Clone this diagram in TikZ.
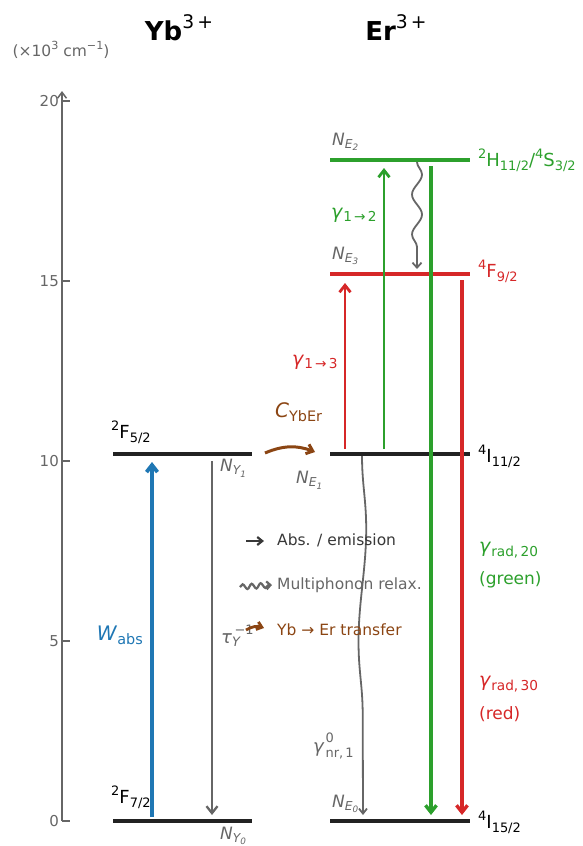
\documentclass[tikz,border=0pt]{standalone}
\usepackage{fontspec}
\setmainfont{DejaVu Sans}
\usetikzlibrary{arrows.meta,decorations.pathmorphing}
\definecolor{cgreen}{HTML}{2CA02C}
\definecolor{cred}{HTML}{D62728}
\definecolor{cblue}{HTML}{1F77B4}
\definecolor{cbrown}{HTML}{8B4513}
\definecolor{cgray}{HTML}{666666}
\definecolor{cblack}{HTML}{222222}
\newcommand\lsub[1]{\raisebox{-0.35ex}{\scalebox{0.72}{#1}}}
\newcommand\lsup[1]{\raisebox{0.85ex}{\scalebox{0.72}{#1}}}
\newcommand\fs[1]{\fontsize{#1}{#1}\selectfont}
\begin{document}
\begin{tikzpicture}[x=1pt,y=-1pt,
  level/.style={line width=4.5pt,cblack},
  tip/.style={-{Straight Barb[length=7pt,width=11pt]}},
  lab/.style={inner sep=0pt,font=\fs{18}},
  pop/.style={inner sep=0pt,font=\fs{17}\itshape,text=cgray},
  tick/.style={inner sep=0pt,font=\fs{15},text=cgray,anchor=east},
  wave/.style={decorate,decoration={snake,amplitude=5pt,segment length=40pt,post length=8pt}}
]
\useasboundingbox (0,0) rectangle (582,846);
% headers
\node[inner sep=0pt,font=\fs{26}\bfseries] (hyb) at (179,28) {Yb\lsup{\mdseries 3\,+}};
\node[inner sep=0pt,font=\fs{26}\bfseries] (her) at (396,28) {Er\lsup{\mdseries 3\,+}};
\node[inner sep=0pt,font=\fs{15.5},text=cgray] (unit) at (61,50) {(×10\lsup{3} cm\lsup{−1})};
% axis
\coordinate (a0) at (62,821); \coordinate (a1) at (62,91);
\draw[cgray,line width=1.5pt,-{Straight Barb[length=6pt,width=9pt]}] (a0) -- (a1);
\foreach \v/\yy in {0/821,5/641,10/461,15/281,20/101}{
  \draw[cgray,line width=1.5pt] (62,\yy) -- (70,\yy);
  \node[tick] (t\v) at (59,\yy) {\v};
}
% Yb levels
\coordinate (y0l) at (113,821); \coordinate (y0r) at (252,821);
\coordinate (y1l) at (113,454); \coordinate (y1r) at (252,454);
\draw[level] (y0l) -- (y0r);
\draw[level] (y1l) -- (y1r);
\node[lab,anchor=west] (lF52) at (111,432) {\lsup{2}F\lsub{5/2}};
\node[lab,anchor=west] (lF72) at (111,797) {\lsup{2}F\lsub{7/2}};
\node[pop,anchor=west] (NY1) at (220,468) {N\lsub{Y\lsub{1}}};
\node[pop,anchor=west] (NY0) at (220,836) {N\lsub{Y\lsub{0}}};
% Er levels
\coordinate (e0l) at (330,821); \coordinate (e0r) at (470,821);
\coordinate (e1l) at (330,454); \coordinate (e1r) at (470,454);
\coordinate (e3l) at (330,274); \coordinate (e3r) at (470,274);
\coordinate (e2l) at (330,160); \coordinate (e2r) at (470,160);
\draw[level] (e0l) -- (e0r);
\draw[level] (e1l) -- (e1r);
\draw[level,cred] (e3l) -- (e3r);
\draw[level,cgreen] (e2l) -- (e2r);
\node[lab,anchor=west] (lI152) at (478,822) {\lsup{4}I\lsub{15/2}};
\node[lab,anchor=west] (lI112) at (478,456) {\lsup{4}I\lsub{11/2}};
\node[lab,anchor=west,text=cred] (lF92) at (478,271) {\lsup{4}F\lsub{9/2}};
\node[lab,anchor=west,text=cgreen] (lH) at (478,160) {\lsup{2}H\lsub{11/2}/\lsup{4}S\lsub{3/2}};
\node[pop,anchor=west] (NE2) at (332,142) {N\lsub{E\lsub{2}}};
\node[pop,anchor=west] (NE3) at (332,256) {N\lsub{E\lsub{3}}};
\node[pop,anchor=west] (NE1) at (296,480) {N\lsub{E\lsub{1}}};
\node[pop,anchor=west] (NE0) at (332,804) {N\lsub{E\lsub{0}}};
% Yb arrows
\coordinate (wa0) at (152,817); \coordinate (wa1) at (152,462);
\draw[cblue,line width=3.8pt,tip] (wa0) -- (wa1);
\node[lab,anchor=east,text=cblue,font=\fs{20}] (Wabs) at (143,635) {\textit{W}\lsub{abs}};
\coordinate (ty0) at (212,461); \coordinate (ty1) at (212,815);
\draw[cgray,line width=2.3pt,tip] (ty0) -- (ty1);
\node[lab,anchor=west,text=cgray,font=\fs{18}] (tau) at (221,636) {\textit{τ}\lsub{\textit{Y}}\hspace{-0.35em}\lsup{−1}};
% transfer
\coordinate (c0) at (265,453); \coordinate (c1) at (315,452);
\draw[cbrown,line width=3pt,-{Straight Barb[length=6pt,width=10pt]}] (c0) to[bend left=22] (c1);
\node[lab,anchor=west,text=cbrown,font=\fs{20}] (CYbEr) at (275,412) {\textit{C}\lsub{YbEr}};
% Er arrows
\coordinate (r13a) at (345,449); \coordinate (r13b) at (345,283);
\draw[cred,line width=2.8pt,tip] (r13a) -- (r13b);
\node[lab,anchor=west,text=cred,font=\fs{19}] (g13) at (292,362) {\textit{γ}\lsub{1\,→\,3}};
\coordinate (g12a) at (384,449); \coordinate (g12b) at (384,168);
\draw[cgreen,line width=2.8pt,tip] (g12a) -- (g12b);
\node[lab,anchor=west,text=cgreen,font=\fs{19}] (g12) at (331,215) {\textit{γ}\lsub{1\,→\,2}};
\coordinate (gd0) at (431,166); \coordinate (gd1) at (431,815);
\draw[cgreen,line width=3.4pt,tip] (gd0) -- (gd1);
\coordinate (rd0) at (462,280); \coordinate (rd1) at (462,815);
\draw[cred,line width=3.4pt,tip] (rd0) -- (rd1);
\node[lab,anchor=west,text=cgreen,font=\fs{19}] (grad20) at (479,550) {\textit{γ}\lsub{rad,\,20}};
\node[lab,anchor=west,text=cgreen,font=\fs{17}] (green) at (479,580) {(green)};
\node[lab,anchor=west,text=cred,font=\fs{19}] (grad30) at (479,684) {\textit{γ}\lsub{rad,\,30}};
\node[lab,anchor=west,text=cred,font=\fs{17}] (red) at (479,714) {(red)};
% multiphonon
\coordinate (m20) at (417,162); \coordinate (m21) at (417,269);
\draw[cgray,line width=1.8pt,wave,-{Straight Barb[length=5pt,width=9pt]}] (m20) -- (m21);
\coordinate (m10) at (362,456); \coordinate (m11) at (363,815);
\draw[cgray,line width=1.8pt,decorate,decoration={snake,amplitude=4pt,segment length=230pt,post length=6pt},-{Straight Barb[length=5pt,width=8pt]}] (m10) -- (m11);
\node[lab,anchor=west,text=cgray,font=\fs{18}] (gnr) at (313,746) {\textit{γ}\hspace{0.05em}\rlap{\raisebox{1.0ex}{\scalebox{0.72}{0}}}\raisebox{-0.55ex}{\scalebox{0.72}{nr,\,1}}};
% legend
\coordinate (l1a) at (246,541); \coordinate (l1b) at (264,541);
\draw[cblack!90,line width=2.2pt,-{Straight Barb[length=5pt,width=8pt]}] (l1a) -- (l1b);
\node[inner sep=0pt,anchor=west,font=\fs{15.5},text=cblack!90] (leg1) at (277,540) {Abs. / emission};
\coordinate (l2a) at (240,587); \coordinate (l2b) at (272,585);
\draw[cgray,line width=2.2pt,decorate,decoration={snake,amplitude=2.5pt,segment length=9pt,post length=3pt},-{Straight Barb[length=4pt,width=8pt]}] (l2a) -- (l2b);
\node[inner sep=0pt,anchor=west,font=\fs{15.5},text=cgray] (leg2) at (277,585) {Multiphonon relax.};
\coordinate (l3a) at (246,630); \coordinate (l3b) at (264,628);
\draw[cbrown,line width=2.8pt,-{Straight Barb[length=5pt,width=8pt]}] (l3a) to[bend left=25] (l3b);
\node[inner sep=0pt,anchor=west,font=\fs{15.5},text=cbrown] (leg3) at (277,630) {Yb → Er transfer};
\end{tikzpicture}
\end{document}
